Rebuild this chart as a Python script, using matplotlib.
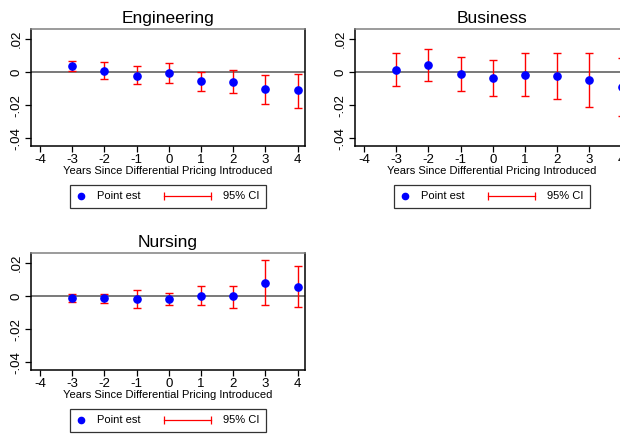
import matplotlib
matplotlib.use("Agg")
import matplotlib.pyplot as plt
import numpy as np
from matplotlib.lines import Line2D
from matplotlib.legend_handler import HandlerBase

plt.rcParams["font.family"] = ["Liberation Sans", "DejaVu Sans"]

years = [-3, -2, -1, 0, 1, 2, 3, 4]

eng_est = [0.0038, 0.0010, -0.0020, -0.0002, -0.0053, -0.0057, -0.0103, -0.0109]
eng_hi = [0.0067, 0.0060, 0.0036, 0.0055, 0.0004, 0.0012, -0.0018, -0.0008]
eng_lo = [0.0006, -0.0040, -0.0073, -0.0063, -0.0113, -0.0127, -0.0194, -0.0216]

bus_est = [0.0016, 0.0042, -0.0008, -0.0032, -0.0018, -0.0024, -0.0048, -0.0091]
bus_hi = [0.0115, 0.0141, 0.0093, 0.0077, 0.0115, 0.0115, 0.0115, 0.0087]
bus_lo = [-0.0083, -0.0053, -0.0111, -0.0143, -0.0147, -0.0164, -0.0210, -0.0267]

nur_est = [-0.0008, -0.0008, -0.0016, -0.0016, 0.0004, 0.0000, 0.0082, 0.0057]
nur_hi = [0.0014, 0.0016, 0.0035, 0.0020, 0.0065, 0.0065, 0.0220, 0.0182]
nur_lo = [-0.0033, -0.0041, -0.0069, -0.0053, -0.0055, -0.0069, -0.0053, -0.0067]

xticks = [-4, -3, -2, -1, 0, 1, 2, 3, 4]
yticks = [-0.04, -0.02, 0, 0.02]
ylabels = ["-.04", "-.02", "0", ".02"]


class DotHandler(HandlerBase):
    def create_artists(self, legend, orig_handle, xdescent, ydescent,
                       width, height, fontsize, trans):
        m = Line2D([3 - xdescent], [height / 2 - ydescent], marker="o",
                   color="blue", ms=4.5, ls="none", transform=trans)
        return [m]


class CIHandler(HandlerBase):
    def create_artists(self, legend, orig_handle, xdescent, ydescent,
                       width, height, fontsize, trans):
        y = height / 2 - ydescent
        x0 = width - 35 - xdescent
        x1 = width - 1 - xdescent
        ln = Line2D([x0, x1], [y, y], color="red", lw=0.9,
                    marker="|", ms=6, mew=0.9, transform=trans)
        return [ln]


def panel(rect, title, est, lo, hi):
    ax = fig.add_axes(rect)
    est = np.array(est)
    err = [est - np.array(lo), np.array(hi) - est]
    ax.axhline(0, color="#555555", lw=1.1, zorder=1)
    ax.errorbar(years, est, yerr=err, fmt="none", ecolor="red",
                elinewidth=1.0, capsize=3, capthick=1.0, zorder=2)
    ax.plot(years, est, "o", color="blue", ms=5.2, zorder=3)
    ax.set_xlim(-4.28, 4.23)
    ax.set_ylim(-0.0447, 0.0262)
    ax.set_xticks(xticks)
    ax.set_xticklabels([str(t) for t in xticks], fontsize=9.5)
    ax.set_yticks(yticks)
    ax.set_yticklabels(ylabels, fontsize=9.5, rotation=90, va="center")
    ax.tick_params(direction="out", length=4, width=0.9, pad=2)
    ax.set_xlabel("Years Since Differential Pricing Introduced",
                  fontsize=8, labelpad=0)
    ax.set_title(title, fontsize=12.5, pad=4.5)
    ax.spines["top"].set_color("#808080")
    for s in ax.spines.values():
        s.set_linewidth(1.1)
    dot = Line2D([], [], color="blue", marker="o", ls="none")
    ci = Line2D([], [], color="red")
    leg = ax.legend([dot, ci], ["Point est", "95% CI"], ncol=2,
                    loc="upper center", bbox_to_anchor=(0.5, -0.33),
                    fontsize=8, frameon=True, fancybox=False,
                    edgecolor="black", handlelength=0.9, handletextpad=0.9,
                    columnspacing=5.6, borderpad=0.62, borderaxespad=0,
                    handler_map={dot: DotHandler(), ci: CIHandler()})
    leg.get_frame().set_linewidth(0.9)
    return ax


fig = plt.figure(figsize=(6.2, 4.34), dpi=100)
w = 274 / 620
h = 117 / 434
panel([31 / 620, 1 - 146 / 434, w, h], "Engineering", eng_est, eng_lo, eng_hi)
panel([355 / 620, 1 - 146 / 434, w, h], "Business", bus_est, bus_lo, bus_hi)
panel([31 / 620, 1 - 370 / 434, w, h], "Nursing", nur_est, nur_lo, nur_hi)

fig.savefig("out.png", dpi=100)
